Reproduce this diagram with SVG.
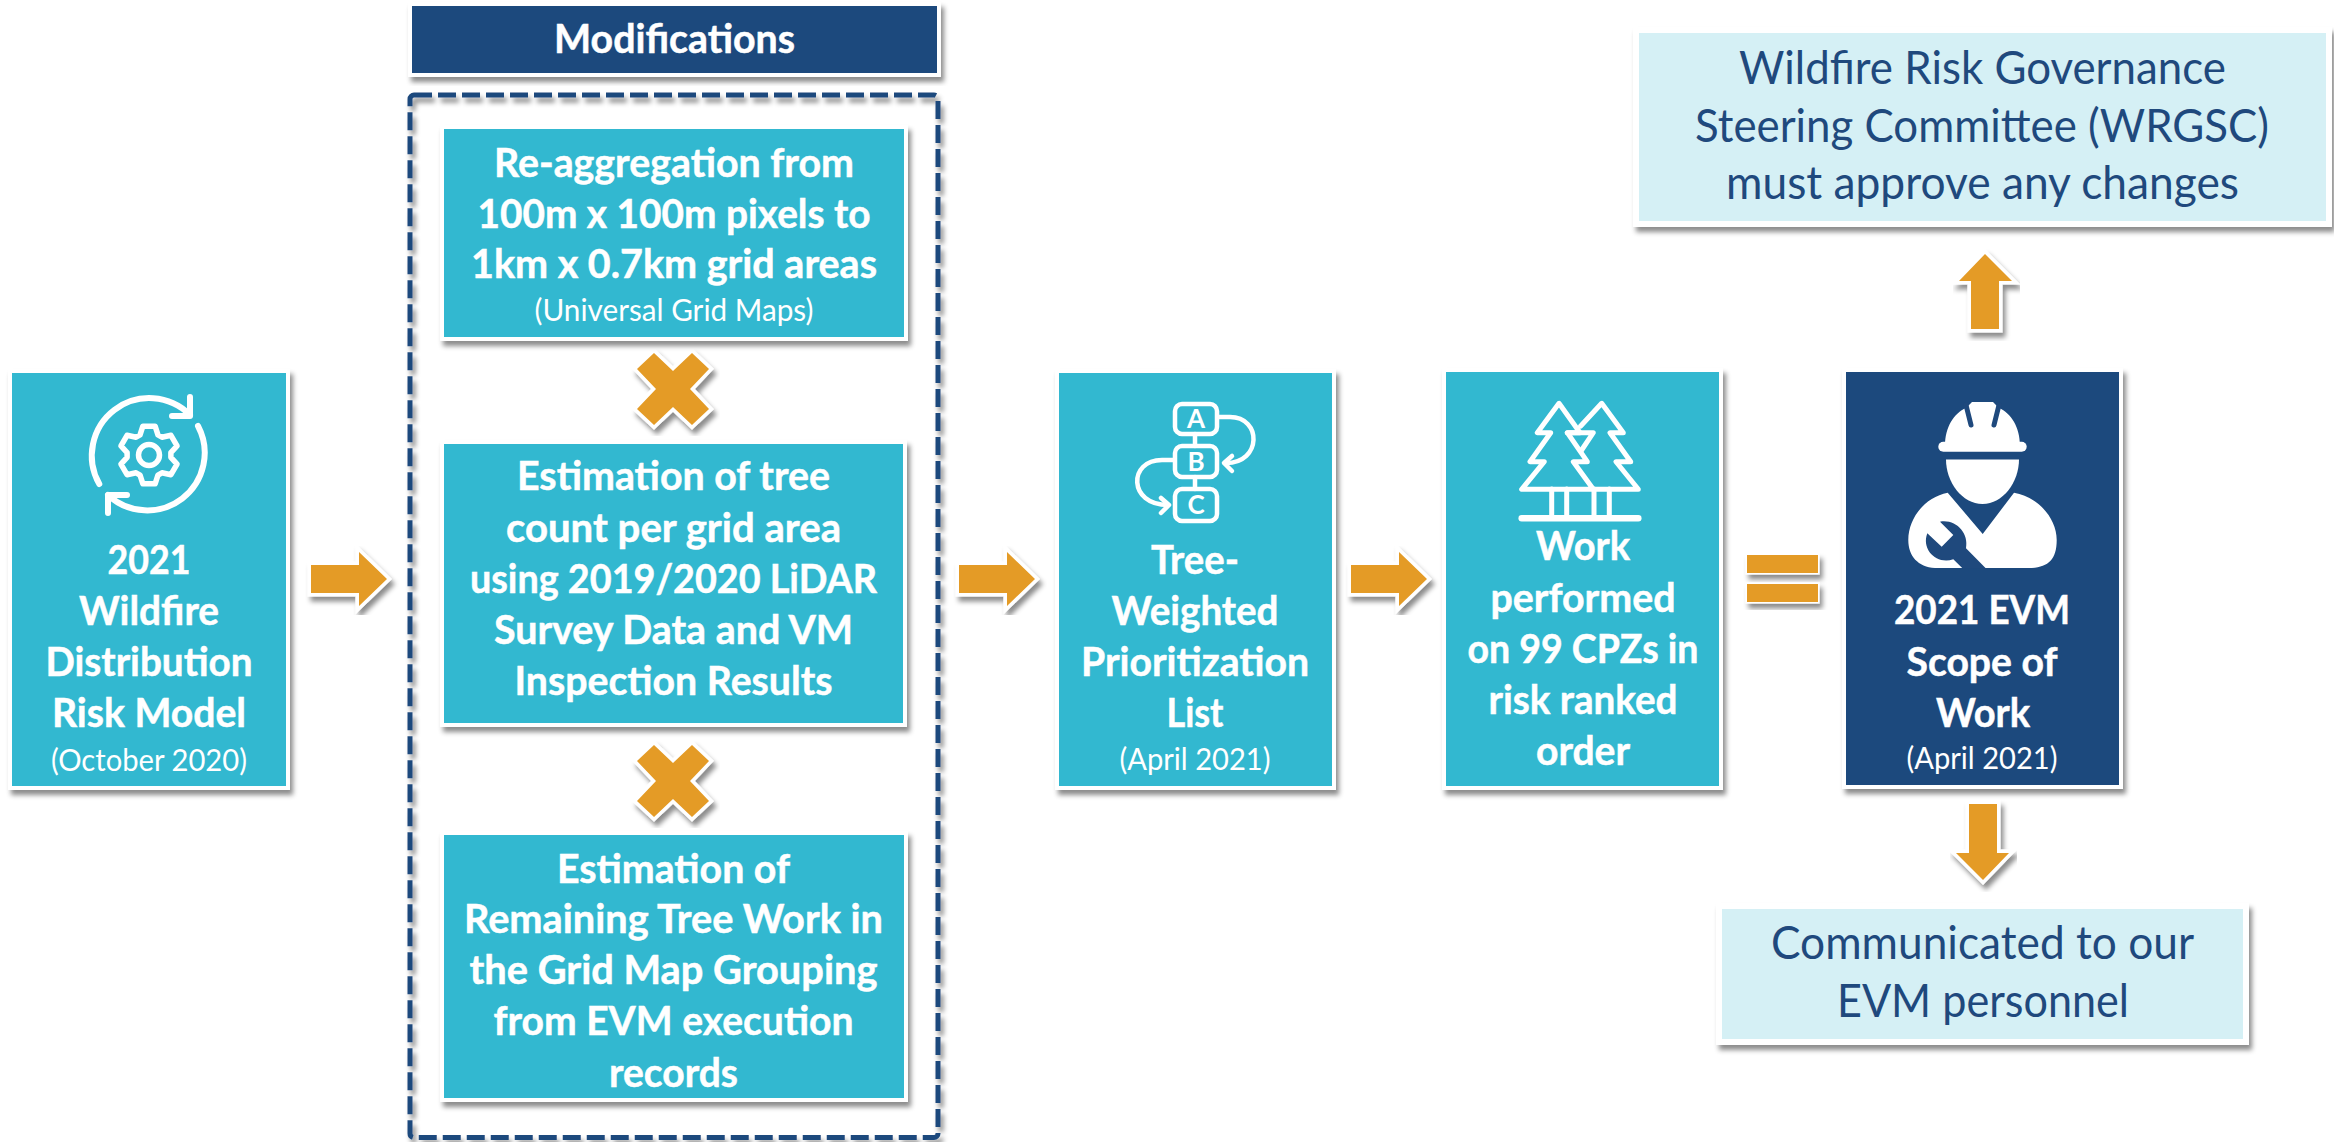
<svg xmlns="http://www.w3.org/2000/svg" width="2334" height="1142" viewBox="0 0 2334 1142">
<style>
text{font-family:Lato,"Open Sans","Liberation Sans",sans-serif;text-anchor:middle}
.t{fill:#fff;stroke:#fff;stroke-width:.5px;font-size:41px;font-weight:700}
.s{fill:#fff;font-size:30px;font-weight:400}
.l{fill:#1f497d;font-size:46px;font-weight:400}
.g{fill:#fff;font-size:26px;font-weight:700}
.teal{fill:#32b8d0;stroke:#fff;stroke-width:4}
.navy{fill:#1f497d;stroke:#fff;stroke-width:4}
.pale{fill:#d5f0f5;stroke:#fff;stroke-width:6}
.or{fill:#e49b25;stroke:#fff;stroke-width:7;paint-order:stroke;stroke-linejoin:miter}
.bar{fill:#e49b25;stroke:#fff;stroke-width:3;paint-order:stroke}
.ic{fill:none;stroke:#fff;stroke-linecap:round;stroke-linejoin:round}
.w{fill:#fff}
.n{fill:#1f497d}
</style>
<defs>
<filter id="sh" x="-10%" y="-10%" width="125%" height="125%">
<feDropShadow dx="3" dy="5" stdDeviation="2.5" flood-color="#000" flood-opacity=".45"/>
</filter>
<polygon id="x" class="or" points="-19,-36 0,-18 19,-36 36,-20 17,0 36,20 19,36 0,18 -19,36 -36,20 -17,0 -36,-20"/>
<polygon id="ra" class="or" points="0,-14 48,-14 48,-27 76,0 48,27 48,14 0,14"/>
</defs>

<g id="connectors">
<use href="#ra" x="311" y="579" filter="url(#sh)"/>
<use href="#ra" x="959" y="579" filter="url(#sh)"/>
<use href="#ra" x="1351" y="579" filter="url(#sh)"/>
<polygon class="or" filter="url(#sh)" points="1985,254 2012,281 1999,281 1999,329 1971,329 1971,281 1959,281"/>
<polygon class="or" filter="url(#sh)" points="1969,804 1997,804 1997,853 2009,853 1983,880 1956,853 1969,853"/>
<g id="equals" filter="url(#sh)">
<rect class="bar" x="1747" y="555" width="71" height="18"/>
<rect class="bar" x="1747" y="584" width="71" height="18"/>
</g>
<use href="#x" x="673" y="389" filter="url(#sh)"/>
<use href="#x" x="673" y="781" filter="url(#sh)"/>
</g>

<g id="node-risk-model">
<rect class="teal" x="10" y="371" width="278" height="417" filter="url(#sh)"/>
<g transform="translate(149,455)" class="ic" stroke-width="6">
<path d="M-49.7,29 A57.5,57.5 0 0 1 41,-40"/>
<path d="M49,-29 A57.5,57.5 0 0 1 -41,40"/>
<path d="M41,-58 V-39 H23"/>
<path d="M-41,58 V40 H-22"/>
<path stroke-width="5.5" d="M-8.95,-20.1 L-6.13,-28.86 L6.13,-28.86 L8.95,-20.1 L12.93,-17.8 L21.93,-19.74 L28.06,-9.12 L21.88,-2.3 L21.88,2.3 L28.06,9.12 L21.93,19.74 L12.93,17.8 L8.95,20.1 L6.13,28.86 L-6.13,28.86 L-8.95,20.1 L-12.93,17.8 L-21.93,19.74 L-28.06,9.12 L-21.88,2.3 L-21.88,-2.3 L-28.06,-9.12 L-21.93,-19.74 L-12.93,-17.8 Z"/>
<circle r="10.5" stroke-width="5.5"/>
</g>
<text class="t" x="149" y="574" textLength="83" lengthAdjust="spacingAndGlyphs">2021</text>
<text class="t" x="149" y="625" textLength="140" lengthAdjust="spacingAndGlyphs">Wildfire</text>
<text class="t" x="149" y="676" textLength="207" lengthAdjust="spacingAndGlyphs">Distribution</text>
<text class="t" x="149" y="727" textLength="194" lengthAdjust="spacingAndGlyphs">Risk Model</text>
<text class="s" x="149" y="771" textLength="196" lengthAdjust="spacingAndGlyphs">(October 2020)</text>
</g>

<g id="node-modifications-title">
<rect class="navy" x="410" y="4" width="529" height="71" filter="url(#sh)"/>
<text class="t" x="674.5" y="53" textLength="241" lengthAdjust="spacingAndGlyphs">Modifications</text>
</g>

<g id="node-modifications-frame">
<rect x="410" y="95" width="528" height="1042.5" rx="4" fill="none" stroke="#1f497d" stroke-width="5" stroke-dasharray="18 6" filter="url(#sh)"/>
</g>

<g id="node-reaggregation">
<rect class="teal" x="442" y="127" width="464" height="212" filter="url(#sh)"/>
<text class="t" x="674" y="177" textLength="360" lengthAdjust="spacingAndGlyphs">Re-aggregation from</text>
<text class="t" x="674" y="228" textLength="393" lengthAdjust="spacingAndGlyphs">100m x 100m pixels to</text>
<text class="t" x="674" y="278" textLength="406" lengthAdjust="spacingAndGlyphs">1km x 0.7km grid areas</text>
<text class="s" x="674" y="321" textLength="279" lengthAdjust="spacingAndGlyphs">(Universal Grid Maps)</text>
</g>

<g id="node-tree-count">
<rect class="teal" x="442" y="442" width="463" height="283" filter="url(#sh)"/>
<text class="t" x="673.5" y="490" textLength="313" lengthAdjust="spacingAndGlyphs">Estimation of tree</text>
<text class="t" x="673.5" y="542" textLength="335" lengthAdjust="spacingAndGlyphs">count per grid area</text>
<text class="t" x="673.5" y="593" textLength="407" lengthAdjust="spacingAndGlyphs">using 2019/2020 LiDAR</text>
<text class="t" x="673.5" y="644" textLength="359" lengthAdjust="spacingAndGlyphs">Survey Data and VM</text>
<text class="t" x="673.5" y="695" textLength="318" lengthAdjust="spacingAndGlyphs">Inspection Results</text>
</g>

<g id="node-remaining-work">
<rect class="teal" x="442" y="833" width="464" height="267" filter="url(#sh)"/>
<text class="t" x="673.5" y="883" textLength="233" lengthAdjust="spacingAndGlyphs">Estimation of</text>
<text class="t" x="673.5" y="933" textLength="419" lengthAdjust="spacingAndGlyphs">Remaining Tree Work in</text>
<text class="t" x="673.5" y="984" textLength="408" lengthAdjust="spacingAndGlyphs">the Grid Map Grouping</text>
<text class="t" x="673.5" y="1035" textLength="360" lengthAdjust="spacingAndGlyphs">from EVM execution</text>
<text class="t" x="673.5" y="1087" textLength="129" lengthAdjust="spacingAndGlyphs">records</text>
</g>

<g id="node-prioritization">
<rect class="teal" x="1057" y="371" width="277" height="417" filter="url(#sh)"/>
<g class="ic" stroke-width="4.5">
<rect x="1175" y="404" width="42" height="30" rx="7"/>
<rect x="1175" y="446" width="42" height="31" rx="7"/>
<rect x="1175" y="489" width="42" height="32" rx="7"/>
<path d="M1195,434V446M1195,477V489"/>
<path d="M1219,417H1230C1262,417 1262,463 1226,463"/>
<path d="M1232,456L1224,463L1232,471"/>
<path d="M1173,460H1162C1128,460 1128,505 1168,505"/>
<path d="M1161,498L1169,505L1161,513"/>
</g>
<text x="1196" y="428" class="g">A</text>
<text x="1196" y="471" class="g">B</text>
<text x="1196" y="514" class="g">C</text>
<text class="t" x="1195" y="574" textLength="88" lengthAdjust="spacingAndGlyphs">Tree-</text>
<text class="t" x="1195" y="625" textLength="167" lengthAdjust="spacingAndGlyphs">Weighted</text>
<text class="t" x="1195" y="676" textLength="228" lengthAdjust="spacingAndGlyphs">Prioritization</text>
<text class="t" x="1195" y="727" textLength="57" lengthAdjust="spacingAndGlyphs">List</text>
<text class="s" x="1195" y="770" textLength="151" lengthAdjust="spacingAndGlyphs">(April 2021)</text>
</g>

<g id="node-work-performed">
<rect class="teal" x="1444" y="370" width="277" height="418" filter="url(#sh)"/>
<g class="ic" stroke-width="5">
<path d="M1593.3,489.3L1573.3,461.7H1587.3L1567.3,432.7H1580L1559,403.3L1537.3,432.7H1550.7L1530,461.7H1544.3L1521.7,489.3H1638.3L1616,461.7H1630.7L1610,432.7H1623.3L1601.7,403.3L1580.7,426"/>
<path d="M1567.3,432.7H1593.3L1581.7,450"/>
<path d="M1551.7,489V518M1566.7,489V518M1594,489V518M1609.3,489V518"/>
<path stroke-width="6.5" d="M1521.7,518.3H1638.3"/>
</g>
<text class="t" x="1583" y="560" textLength="94" lengthAdjust="spacingAndGlyphs">Work</text>
<text class="t" x="1583" y="612" textLength="185" lengthAdjust="spacingAndGlyphs">performed</text>
<text class="t" x="1583" y="663" textLength="231" lengthAdjust="spacingAndGlyphs">on 99 CPZs in</text>
<text class="t" x="1583" y="714" textLength="189" lengthAdjust="spacingAndGlyphs">risk ranked</text>
<text class="t" x="1583" y="765" textLength="94" lengthAdjust="spacingAndGlyphs">order</text>
</g>

<g id="node-scope">
<rect class="navy" x="1844" y="370" width="277" height="417" filter="url(#sh)"/>
<g id="worker">
<rect class="w" x="1938.3" y="441.7" width="88.4" height="10" rx="5"/>
<path class="w" d="M1945,446C1945,427 1954,413 1966,408L1972,402H1993L1999,408C2011,413 2020,427 2020,446Z"/>
<path d="M1966,405L1971,425M1999,405L1994,425" stroke="#1f497d" stroke-width="5" stroke-linecap="round" fill="none"/>
<path class="w" d="M1946,459.5H2019C2019,482 2003,504 1982.5,504C1962,504 1946,482 1946,459.5Z"/>
<path class="w" d="M1947.7,492.7L1982.7,534L2014,492.7C2038,497 2056.7,518 2056.7,540C2056.7,560 2048,567.5 2030,568H1935C1918,567 1908.3,556 1908.3,540C1908.3,518 1925,497 1947.7,492.7Z"/>
<path class="n" d="M1940,521.7C1956,519 1969,533 1966,548.3L1986,568.5H1962.7L1953.3,559.3C1937,565 1921,550 1927.3,533.3L1941.7,546.7L1953.3,535Z"/>
</g>
<text class="t" x="1982" y="624" textLength="176" lengthAdjust="spacingAndGlyphs">2021 EVM</text>
<text class="t" x="1982" y="676" textLength="151" lengthAdjust="spacingAndGlyphs">Scope of</text>
<text class="t" x="1983" y="727" textLength="94" lengthAdjust="spacingAndGlyphs">Work</text>
<text class="s" x="1982" y="769" textLength="151" lengthAdjust="spacingAndGlyphs">(April 2021)</text>
</g>

<g id="node-wrgsc">
<rect class="pale" x="1636" y="30" width="693" height="194" filter="url(#sh)"/>
<text class="l" x="1982.5" y="84" textLength="487" lengthAdjust="spacingAndGlyphs">Wildfire Risk Governance</text>
<text class="l" x="1982" y="142" textLength="574" lengthAdjust="spacingAndGlyphs">Steering Committee (WRGSC)</text>
<text class="l" x="1982.5" y="199" textLength="513" lengthAdjust="spacingAndGlyphs">must approve any changes</text>
</g>

<g id="node-communicated">
<rect class="pale" x="1719" y="906" width="527" height="136" filter="url(#sh)"/>
<text class="l" x="1982.5" y="959" textLength="423" lengthAdjust="spacingAndGlyphs">Communicated to our</text>
<text class="l" x="1983" y="1017" textLength="292" lengthAdjust="spacingAndGlyphs">EVM personnel</text>
</g>
</svg>
